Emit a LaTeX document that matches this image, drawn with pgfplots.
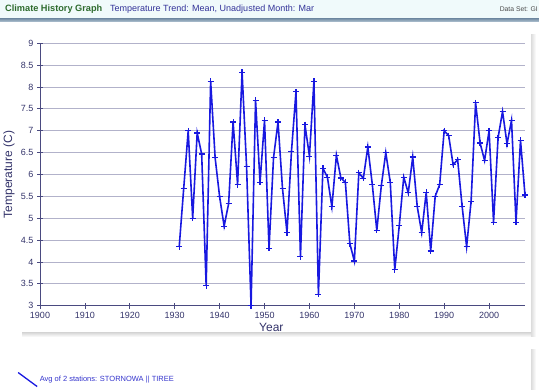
\documentclass[border=0pt]{standalone}
\usepackage{pgfplots}
\pgfplotsset{compat=1.18}
\usepackage{fontspec}
\setmainfont{Liberation Sans}
\definecolor{hdrbg}{HTML}{F0FAFB}
\definecolor{bartop}{HTML}{B4C6D4}
\definecolor{barbot}{HTML}{7E96AC}
\definecolor{titlegreen}{HTML}{2E6B2E}
\definecolor{subblue}{HTML}{333399}
\definecolor{axisc}{HTML}{4A4A80}
\definecolor{gridc}{HTML}{B2B2CA}
\definecolor{labelc}{HTML}{33336A}
\definecolor{lineblue}{HTML}{1818E0}
\definecolor{legblue}{HTML}{3333CC}
\definecolor{shadow}{HTML}{DCDCDC}
\begin{document}
\begin{tikzpicture}[x=1pt,y=1pt]
\useasboundingbox (0,0) rectangle (539,390);
\clip (0,0) rectangle (539,390);
% header
\fill[hdrbg] (0,371) rectangle (539,390);
\shade[top color=barbot, bottom color=bartop] (0,368) rectangle (539,371);
\node[anchor=base west, inner sep=0, font=\bfseries\fontsize{9.2}{10}\selectfont, text=titlegreen] at (5,378.4) {Climate History Graph};
\node[anchor=base west, inner sep=0, font=\fontsize{9}{10}\selectfont, text=subblue] at (110,378.4) {Temperature Trend: Mean, Unadjusted Month: Mar};
\node[anchor=base east, inner sep=0, font=\fontsize{6.8}{8}\selectfont, text=black!70] at (538,378.6) {Data Set: GI};
% panel shadows
\shade[left color=shadow, right color=white] (531,53) rectangle (536,355);
\shade[top color=shadow, bottom color=white] (22,53) rectangle (531,57);
\shade[left color=shadow, right color=white] (531,0) rectangle (536,40);
\begin{axis}[
  at={(40pt,84.3pt)}, anchor=south west,
  scale only axis, width=485pt, height=262.4pt,
  xmin=1900, xmax=2008, ymin=3, ymax=9,
  axis lines*=left,
  axis line style={axisc, line width=0.8pt},
  xtick={1900,1910,...,2000},
  ytick={3,3.5,...,9},
  ymajorgrids, grid style={gridc, line width=0.8pt},
  tick align=center, major tick length=6pt,
  tick style={axisc, line width=0.8pt},
  ticklabel style={font=\fontsize{9}{10}\selectfont, text=labelc},
  /pgf/number format/.cd, 1000 sep={}, assume math mode=true,
  /pgfplots/.cd,
  xlabel={Year},
  xlabel style={at={(axis description cs:0.477,0)}, anchor=center, yshift=-22pt, font=\fontsize{12}{14}\selectfont, text=labelc},
  ylabel={Temperature (C)},
  ylabel style={at={(axis description cs:0,0.5)}, anchor=center, yshift=31pt, font=\fontsize{12}{14}\selectfont, text=labelc},
  legend style={at={(axis description cs:-0.0468,-0.2515)}, anchor=north west, draw=none, fill=none, inner sep=0pt, font=\fontsize{7.5}{9}\selectfont, text=legblue},
  legend image code/.code={\draw[lineblue, line width=1.3pt] (0pt,7pt) -- (19pt,-7pt);},
  clip=false,
]
\addplot[color=lineblue, line width=1.6pt, mark=+, mark size=3pt, mark options={line width=1.2pt}] table {
x y
1931 4.35
1932 5.68
1933 7.00
1934 5.00
1935 6.95
1936 6.47
1937 3.46
1938 8.13
1939 6.38
1940 5.49
1941 4.82
1942 5.33
1943 7.20
1944 5.77
1945 8.34
1946 6.18
1947 3.00
1948 7.70
1949 5.82
1950 7.24
1951 4.31
1952 6.38
1953 7.20
1954 5.68
1955 4.67
1956 6.53
1957 7.89
1958 4.12
1959 7.14
1960 6.42
1961 8.13
1962 3.26
1963 6.14
1964 5.94
1965 5.26
1966 6.44
1967 5.92
1968 5.82
1969 4.42
1970 4.02
1971 6.04
1972 5.91
1973 6.63
1974 5.77
1975 4.72
1976 5.74
1977 6.50
1978 5.82
1979 3.82
1980 4.83
1981 5.94
1982 5.58
1983 6.40
1984 5.27
1985 4.67
1986 5.59
1987 4.25
1988 5.50
1989 5.77
1990 7.00
1991 6.89
1992 6.22
1993 6.34
1994 5.27
1995 4.35
1996 5.39
1997 7.64
1998 6.72
1999 6.32
2000 7.00
2001 4.91
2002 6.84
2003 7.44
2004 6.70
2005 7.24
2006 4.91
2007 6.78
2008 5.53
};
\addlegendentry{Avg of 2 stations: STORNOWA || TIREE}
\end{axis}
\end{tikzpicture}
\end{document}
